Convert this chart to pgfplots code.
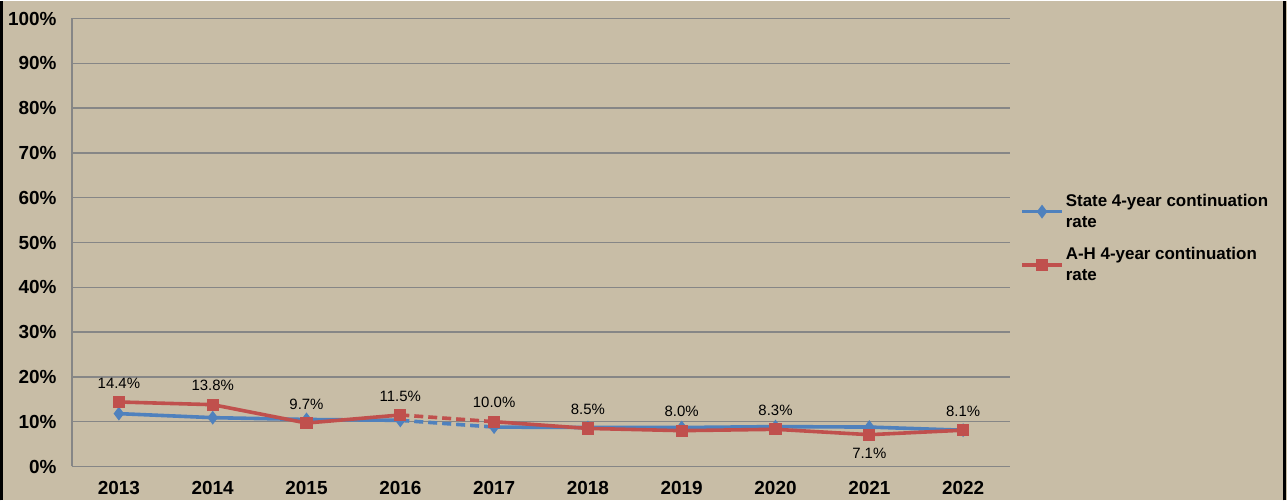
\documentclass[border=0pt]{standalone}
\usepackage{pgfplots}
\pgfplotsset{compat=1.18}
\usepackage{fontspec}
\setmainfont{Liberation Sans}
\definecolor{bg}{RGB}{200,189,166}
\definecolor{sblue}{RGB}{79,129,189}
\definecolor{ared}{RGB}{192,80,77}
\definecolor{gridc}{RGB}{134,134,134}
\begin{document}
\begin{tikzpicture}[x=1bp,y=1bp]
\fill[bg] (0,0) rectangle (1287,499);
\draw[black, line width=3bp] (1.5,0) -- (1.5,499);
\draw[black, line width=3bp] (1284.5,0) -- (1284.5,499);
\begin{axis}[
  at={(72bp,34bp)}, anchor=south west,
  width=938bp, height=448bp, scale only axis,
  xmin=-0.5, xmax=9.5, ymin=0, ymax=100,
  xtick={0,...,9}, xticklabels={2013,2014,2015,2016,2017,2018,2019,2020,2021,2022},
  ytick={0,10,...,100},
  yticklabels={0\%,10\%,20\%,30\%,40\%,50\%,60\%,70\%,80\%,90\%,100\%},
  ymajorgrids, grid style={gridc, line width=1.3bp},
  axis lines*=left, axis line style={-, gridc, line width=1.3bp},
  major tick length=0pt,
  /pgf/number format/assume math mode=true,
  tick label style={font=\bfseries\fontsize{19}{22}\selectfont},
  xticklabel style={yshift=-11bp},
  yticklabel style={xshift=-12bp},
  legend style={at={(1.0107,0.613)}, anchor=north west, draw=none, fill=none,
    font=\bfseries\fontsize{17}{21.5}\selectfont, cells={align=left, anchor=west},
    row sep=14bp, inner sep=0pt},
  legend image code/.code={\draw[mark repeat=2,mark phase=2] plot coordinates {(0bp,0bp)(20bp,0bp)(40bp,0bp)};},
  every node near coord/.append style={font=\fontsize{15}{17}\selectfont, text=black},
]
% State series
\addplot[sblue, line width=3.6bp, mark=diamond*, mark size=4bp] coordinates {(0,11.8)(1,10.9)(2,10.5)(3,10.3)};
\addlegendentry{State 4-year continuation\\rate}
\addplot[sblue, line width=3.6bp, dash pattern=on 9bp off 5bp, forget plot] coordinates {(3,10.3)(4,8.8)};
\addplot[sblue, line width=3.6bp, mark=diamond*, mark size=4bp, forget plot] coordinates {(4,8.8)(5,8.7)(6,8.7)(7,8.9)(8,8.8)(9,8.1)};
% A-H series
\addplot[ared, line width=3.6bp, mark=square*, mark size=4.3bp] coordinates {(0,14.4)(1,13.8)(2,9.7)(3,11.5)};
\addlegendentry{A-H 4-year continuation\\rate}
\addplot[ared, line width=3.6bp, dash pattern=on 9bp off 5bp, forget plot] coordinates {(3,11.5)(4,10.0)};
\addplot[ared, line width=3.6bp, mark=square*, mark size=4.3bp, forget plot] coordinates {(4,10.0)(5,8.5)(6,8.0)(7,8.3)(8,7.1)(9,8.1)};
% labels
\addplot[draw=none, mark=none, forget plot,
  nodes near coords={\pgfmathprintnumber[fixed,fixed zerofill,precision=1,assume math mode=true]{\pgfplotspointmeta}\%},
  every node near coord/.append style={anchor=center, yshift=19bp}]
  coordinates {(0,14.4)(1,13.8)(2,9.7)(3,11.5)(4,10.0)(5,8.5)(6,8.0)(7,8.3)(9,8.1)};
\addplot[draw=none, mark=none, forget plot,
  nodes near coords={\pgfmathprintnumber[fixed,fixed zerofill,precision=1,assume math mode=true]{\pgfplotspointmeta}\%},
  every node near coord/.append style={anchor=center, yshift=-19bp}]
  coordinates {(8,7.1)};
\end{axis}
\end{tikzpicture}
\end{document}
